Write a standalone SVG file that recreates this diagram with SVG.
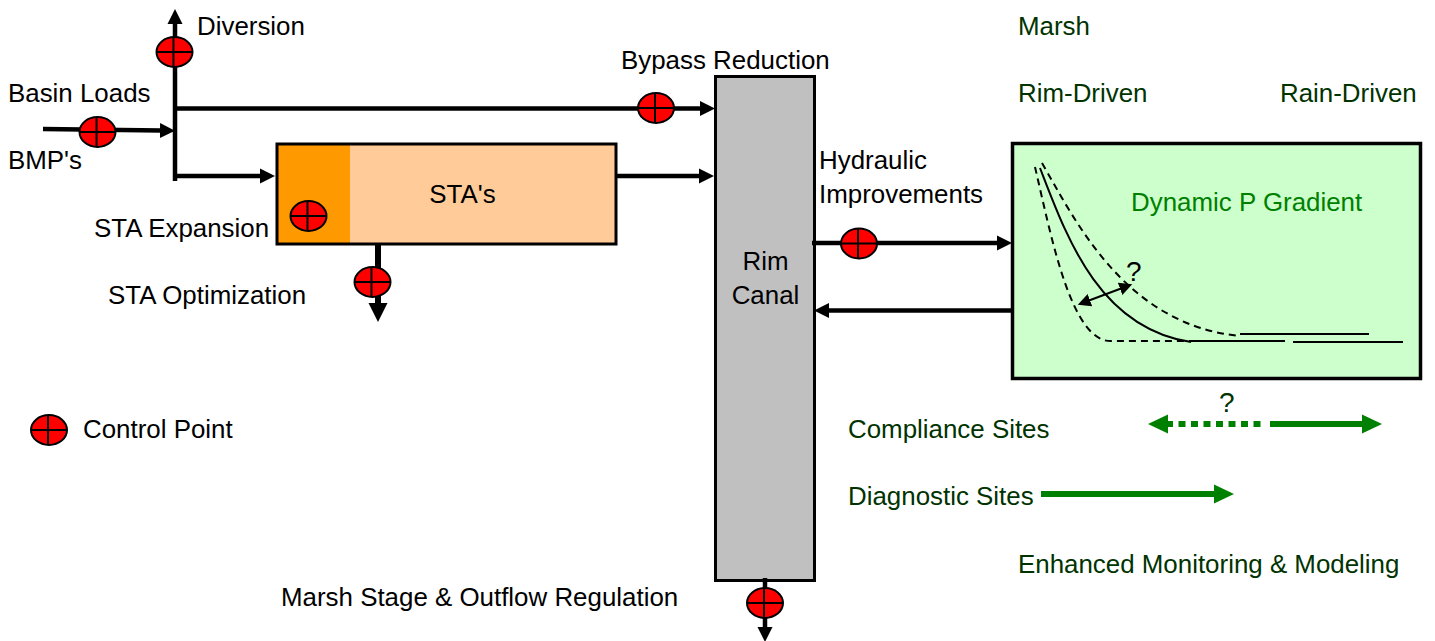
<svg xmlns="http://www.w3.org/2000/svg" width="1435" height="641" viewBox="0 0 1435 641">
<style>
text{font-family:"Liberation Sans",Arial,sans-serif;font-size:25.900px;fill:#000}
.g{fill:#003300}.m{fill:#008000}
.q{font-size:28px}
.c{fill:none;stroke:#000;stroke-width:4.500}
.t{fill:none;stroke:#000;stroke-width:2}
.d{fill:none;stroke:#000;stroke-width:2;stroke-dasharray:7 5}
.gl{fill:none;stroke:#008000;stroke-width:6}
.cp ellipse{fill:#f00;stroke:#000;stroke-width:2}
.cp path{stroke:#000;stroke-width:2;fill:none}
</style>
<defs>
<marker id="a" markerUnits="userSpaceOnUse" markerWidth="16" markerHeight="16" refX="1" refY="8" orient="auto"><path d="M0 0.500L15 8L0 15.500Z" fill="#000"/></marker>
<marker id="b" markerUnits="userSpaceOnUse" markerWidth="20" markerHeight="20" refX="1" refY="10" orient="auto"><path d="M0 0.500L19 10L0 19.500Z" fill="#000"/></marker>
<marker id="n" markerUnits="userSpaceOnUse" markerWidth="14" markerHeight="14" refX="1" refY="7" orient="auto-start-reverse"><path d="M0 0.500L13 7L0 13.500Z" fill="#000"/></marker>
<marker id="ga" markerUnits="userSpaceOnUse" markerWidth="21" markerHeight="21" refX="1" refY="10.500" orient="auto"><path d="M0 1L20 10.500L0 20Z" fill="#008000"/></marker>
<g id="p" class="cp"><ellipse rx="18" ry="15"/><path d="M-18 0H18M-1 -15V15"/></g>
</defs>
<g id="sta"><rect x="277" y="144" width="339" height="100" fill="#ffcc99"/><rect x="277" y="144" width="73" height="100" fill="#ff9900"/><rect x="277" y="144" width="339" height="100" fill="none" stroke="#000" stroke-width="3"/><text x="462.500" y="203" text-anchor="middle">STA's</text></g>
<g id="rim"><rect x="715.500" y="76.500" width="99" height="504" fill="#c0c0c0" stroke="#000" stroke-width="3"/><text x="765.500" y="270" text-anchor="middle">Rim</text><text x="765.500" y="304" text-anchor="middle">Canal</text></g>
<g id="gradient"><rect x="1012.500" y="143.500" width="408" height="235" fill="#ccffcc" stroke="#000" stroke-width="3.500"/><text x="1131" y="211" class="m">Dynamic P Gradient</text>
<path class="t" d="M1040 168C1066 235 1098 328 1191 342"/>
<path class="d" d="M1035 167C1052 240 1072 345 1113 341H1190"/>
<path class="d" d="M1042 163C1075 220 1125 325 1240 336"/>
<path class="t" d="M1190 341H1285M1240 334H1369M1293 342H1403"/>
<path class="t" d="M1089 300.500L1121 288.500" marker-start="url(#n)" marker-end="url(#n)"/>
<text x="1126" y="281" class="q">?</text></g>
<g id="connectors">
<path class="c" d="M43 129L161 130.500" marker-end="url(#a)"/>
<path class="c" d="M175 181V23" marker-end="url(#a)"/>
<path class="c" d="M175 108.500H701" marker-end="url(#a)"/>
<path class="c" d="M175 176H261" marker-end="url(#a)"/>
<path class="c" d="M616 176H700" marker-end="url(#a)"/>
<path class="c" d="M378 244V304" style="stroke-width:6" marker-end="url(#b)"/>
<path class="c" d="M812 243H998" marker-end="url(#a)"/>
<path class="c" d="M1012 310.500H828" marker-end="url(#a)"/>
<path class="c" d="M765 578V628" marker-end="url(#a)"/>
<path class="gl" d="M1166 424H1264" stroke-dasharray="7 5.500"/>
<path class="gl" d="M1270 424H1363" marker-end="url(#ga)"/>
<path class="gl" d="M1172 424H1167" marker-end="url(#ga)"/>
<path class="gl" d="M1041 494H1215" marker-end="url(#ga)"/>
</g>
<use id="cp-diversion" href="#p" x="174.500" y="52"/>
<use id="cp-basin" href="#p" x="97.500" y="132"/>
<use id="cp-expansion" href="#p" x="308.500" y="216"/>
<use id="cp-optimization" href="#p" x="372.500" y="282"/>
<use id="cp-bypass" href="#p" x="656" y="108"/>
<use id="cp-hydraulic" href="#p" x="859" y="243.500"/>
<use id="cp-marsh" href="#p" x="765" y="603"/>
<use id="cp-legend" href="#p" x="49" y="430"/>
<g id="labels">
<text x="197" y="35">Diversion</text>
<text x="8" y="102">Basin Loads</text>
<text x="8" y="169">BMP's</text>
<text x="94" y="237">STA Expansion</text>
<text x="108" y="304">STA Optimization</text>
<text x="621" y="69">Bypass Reduction</text>
<text x="819" y="169">Hydraulic</text>
<text x="819" y="203">Improvements</text>
<text x="83" y="438">Control Point</text>
<text x="281" y="606">Marsh Stage &amp; Outflow Regulation</text>
<text x="1018" y="35" class="g">Marsh</text>
<text x="1018" y="102" class="g">Rim-Driven</text>
<text x="1280" y="102" class="g">Rain-Driven</text>
<text x="848" y="438" class="g">Compliance Sites</text>
<text x="848" y="505" class="g">Diagnostic Sites</text>
<text x="1018" y="573" class="g">Enhanced Monitoring &amp; Modeling</text>
<text x="1219" y="412" class="q g">?</text>
</g>
</svg>
